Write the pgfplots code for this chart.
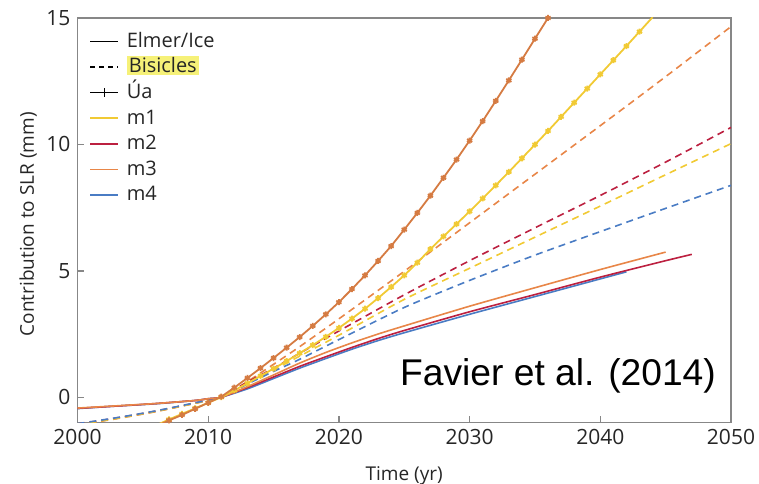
\documentclass[border=0pt]{standalone}
\usepackage{pgfplots}
\pgfplotsset{compat=1.18}
\usepackage{fontspec}
\setmainfont{Open Sans}
\newfontfamily\annotfont{Liberation Sans}
\usetikzlibrary{calc}

\definecolor{mone}{RGB}{241,202,52}
\definecolor{mtwo}{RGB}{188,32,64}
\definecolor{mthree}{RGB}{232,134,72}
\definecolor{mfour}{RGB}{74,124,196}
\definecolor{axisgray}{RGB}{135,135,135}
\definecolor{hilite}{RGB}{246,241,120}
\setlength{\fboxsep}{1pt}

\begin{document}
\begin{tikzpicture}
\begin{axis}[
  name=ax,
  scale only axis,
  width=326.75pt, height=202.25pt,
  xmin=2000, xmax=2050, ymin=-1, ymax=15,
  xtick={2000,2010,2020,2030,2040,2050},
  xticklabels={2000,2010,2020,2030,2040,2050},
  ytick={0,5,10,15}, yticklabels={0,5,10,15},
  tick pos=left, tick align=inside,
  major tick length=3pt,
  axis line style={axisgray, line width=0.8pt},
  every tick/.style={axisgray, line width=0.7pt},
  tick label style={font=\fontsize{10.5}{12}\selectfont, text=black!85},
  xlabel={Time (yr)},
  ylabel={Contribution to SLR (mm)},
  label style={font=\fontsize{9.5}{11}\selectfont, text=black!85},
  xlabel style={at={(axis description cs:0.5,-0.1422)}, anchor=base},
  ylabel style={at={(axis description cs:-0.0755,0.49)}, anchor=center},
  legend style={draw=none, fill=none, at={(axis description cs:0,1)},
    anchor=north west, xshift=5.75pt, yshift=-5.2pt,
    font=\fontsize{10}{12}\selectfont, inner sep=0pt, row sep=0pt,
    nodes={inner sep=0.8pt, text height=8.5pt, text depth=2.7pt, text=black!85},
    /tikz/every odd column/.append style={column sep=3pt}},
  legend cell align=left,
  legend image code/.code={\draw[mark repeat=2,mark phase=2,#1] plot coordinates {(0pt,0pt) (7pt,0pt) (14pt,0pt)};},
  clip mode=individual,
]
% legend keys
\addlegendimage{black, line width=0.7pt}
\addlegendentry{Elmer/Ice}
\addlegendimage{black, line width=0.7pt, dash pattern=on 2.5pt off 2pt}
\addlegendentry{\colorbox{hilite}{Bisicles}}
\addlegendimage{black, line width=0.7pt, mark=|, mark size=2.2pt, mark options={solid}}
\addlegendentry{Úa}
\addlegendimage{mone, line width=0.9pt}
\addlegendentry{m1}
\addlegendimage{mtwo, line width=0.9pt}
\addlegendentry{m2}
\addlegendimage{mthree, line width=0.9pt}
\addlegendentry{m3}
\addlegendimage{mfour, line width=0.9pt}
\addlegendentry{m4}

% Bisicles (dashed)
\addplot[forget plot, mthree, line width=0.8pt, dash pattern=on 3.5pt off 2.5pt, smooth, tension=0.4] coordinates {
 (2000,-1.10) (2003,-0.85) (2006,-0.57) (2009,-0.24) (2011,0) (2013,0.62) (2015,1.30)
 (2017,2.00) (2020,3.10) (2025,4.98) (2030,6.90) (2035,8.82) (2040,10.74) (2045,12.68) (2050,14.66)};
\addplot[forget plot, mtwo, line width=0.8pt, dash pattern=on 3.5pt off 2.5pt, smooth, tension=0.4] coordinates {
 (2000,-1.06) (2003,-0.82) (2006,-0.55) (2009,-0.23) (2011,0) (2013,0.60) (2015,1.15)
 (2020,2.62) (2025,4.05) (2030,5.40) (2035,6.70) (2040,7.98) (2045,9.30) (2050,10.67)};
\addplot[forget plot, mone, line width=0.8pt, dash pattern=on 3.5pt off 2.5pt, smooth, tension=0.4] coordinates {
 (2000,-1.08) (2003,-0.84) (2006,-0.56) (2009,-0.24) (2011,0) (2013,0.55) (2015,1.08)
 (2020,2.45) (2025,3.87) (2030,5.10) (2035,6.33) (2040,7.56) (2045,8.80) (2050,10.03)};
\addplot[forget plot, mfour, line width=0.8pt, dash pattern=on 3.5pt off 2.5pt, smooth, tension=0.4] coordinates {
 (2000,-1.05) (2003,-0.81) (2006,-0.54) (2009,-0.22) (2011,0) (2013,0.52) (2015,1.02)
 (2017,1.50) (2020,2.28) (2025,3.55) (2030,4.62) (2035,5.62) (2040,6.55) (2045,7.47) (2050,8.38)};

% Elmer/Ice (solid)
\addplot[forget plot, mfour, line width=0.8pt, smooth, tension=0.4] coordinates {
 (2000,-0.45) (2003,-0.35) (2006,-0.26) (2009,-0.13) (2010,-0.06) (2011,0) (2013,0.33) (2015,0.74)
 (2017,1.15) (2019,1.53) (2021,1.90) (2023,2.24) (2025,2.55) (2030,3.28) (2035,3.98) (2040,4.68) (2042,4.96)};
\addplot[forget plot, mtwo, line width=0.8pt, smooth, tension=0.4] coordinates {
 (2000,-0.44) (2003,-0.35) (2006,-0.25) (2009,-0.13) (2010,-0.06) (2011,0) (2013,0.38) (2015,0.80)
 (2017,1.22) (2019,1.60) (2021,1.97) (2023,2.32) (2025,2.64) (2030,3.38) (2035,4.06) (2040,4.75) (2045,5.40) (2047,5.65)};
\addplot[forget plot, mthree, line width=0.8pt, smooth, tension=0.4] coordinates {
 (2000,-0.43) (2003,-0.34) (2006,-0.25) (2009,-0.13) (2010,-0.06) (2011,0) (2013,0.42) (2015,0.88)
 (2017,1.35) (2019,1.77) (2021,2.15) (2023,2.50) (2025,2.82) (2030,3.60) (2035,4.33) (2040,5.05) (2045,5.74)};

% Ua (solid with yearly marks)
\addplot[forget plot, mone, line width=0.9pt, mark=asterisk, mark size=1.5pt, mark options={solid}] coordinates {
 (2006,-1.12) (2007,-0.88) (2008,-0.66) (2009,-0.44) (2010,-0.22) (2011,0) (2012,0.27) (2013,0.55)
 (2014,0.84) (2015,1.13) (2016,1.43) (2017,1.74) (2018,2.06) (2019,2.39) (2020,2.74)
 (2021,3.11) (2022,3.50) (2023,3.92) (2024,4.36) (2025,4.82) (2026,5.32) (2027,5.86)
 (2028,6.36) (2029,6.85) (2030,7.35) (2031,7.86) (2032,8.38) (2033,8.91) (2034,9.45)
 (2035,9.99) (2036,10.53) (2037,11.09) (2038,11.65) (2039,12.21) (2040,12.77)
 (2041,13.33) (2042,13.89) (2043,14.46) (2044,15.03)};
\addplot[forget plot, mthree!92!black, line width=0.9pt, mark=asterisk, mark size=1.5pt, mark options={solid}] coordinates {
 (2006,-1.15) (2007,-0.92) (2008,-0.70) (2009,-0.46) (2010,-0.22) (2011,0.02) (2012,0.38)
 (2013,0.76) (2014,1.15) (2015,1.55) (2016,1.96) (2017,2.38) (2018,2.82) (2019,3.28)
 (2020,3.76) (2021,4.28) (2022,4.82) (2023,5.39) (2024,5.98) (2025,6.63) (2026,7.29)
 (2027,7.97) (2028,8.68) (2029,9.40) (2030,10.15) (2031,10.92) (2032,11.72) (2033,12.53)
 (2034,13.35) (2035,14.18) (2036,15.00) (2037,15.85)};

\node[anchor=base east, font=\annotfont\fontsize{18.6}{22}\selectfont, inner sep=0pt]
  at (axis cs:2048.87,0.45) {Favier et al. (2014)};
\end{axis}
\pgfresetboundingbox
\path[use as bounding box] ($(ax.south west)+(-38.75pt,-30.75pt)$) rectangle ($(ax.north east)+(14pt,9pt)$);
\end{tikzpicture}
\end{document}
